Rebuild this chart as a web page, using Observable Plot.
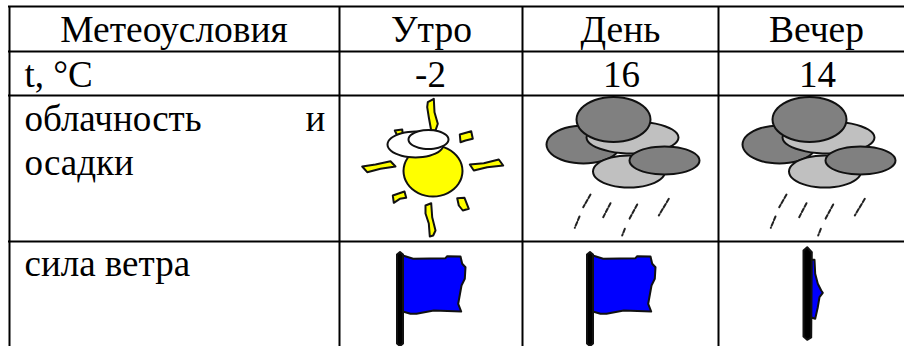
<!DOCTYPE html>
<html>
<head>
<meta charset="utf-8">
<script src="https://cdn.jsdelivr.net/npm/d3@7"></script>
<script src="https://cdn.jsdelivr.net/npm/@observablehq/plot@0.6"></script>
<style>html,body{margin:0;padding:0;background:#fff}svg{display:block}</style>
</head>
<body>
<div id="chart"></div>
<script>
// Table content
const headers = ["Метеоусловия", "Утро", "День", "Вечер"];
const temps = ["-2", "16", "14"];
const tempLabel = "t, °C";
const rowLabels = ["облачность", "и", "осадки", "сила ветра"];

// Table grid, in picture units
const gridX = [9, 339, 522, 718];
const gridY = [6, 51, 95, 241];
const headerX = [173.5, 431, 620, 816];
const tempX = [430, 621, 817];
const baselines = [41.5, 86, 130.5, 174, 275];

// Icon outlines, in picture units
const sunDisc = [432.5, 170.5, 29.5, 25.5];
const sunClouds = [[415, 144, 28, 13], [428, 139, 20, 9.5]];
const sunRays = [
  [[427.3,101.7],[433.3,98.3],[434,111.7],[437.3,123.3],[435,130],[430.7,130],[428.3,116.7],[426.7,106.7]],
  [[425,205],[430.7,202.7],[431.7,216.7],[435,230],[432.7,235],[429.3,236],[428.3,223],[425,213]],
  [[361.7,166],[375,164],[390,160.7],[395,166],[380,168.3],[366.7,171.7]],
  [[469.3,164],[483.3,162.7],[498.3,159],[502.7,165],[486.7,166.7],[473.3,170]],
  [[394.3,130],[401.7,129],[402.3,133.3],[396.7,135]],
  [[459.3,134],[470.7,130.7],[472.3,138.3],[465,140],[460,141.7]],
  [[392.3,195],[404,191],[405.7,197.3],[399.3,198.3],[393.3,202.3]],
  [[456.7,197.7],[464,197.3],[468.3,208.3],[462.3,210],[458.3,205]]
];
const cloudOffsets = [0, 196];
const cloudShapes = [
  [583, 144, 37, 19, "#808080"],
  [628.5, 171, 36, 16, "#c0c0c0"],
  [632, 137, 46, 16, "#c0c0c0"],
  [613, 119, 37, 22.5, "#808080"],
  [664, 160, 35, 14, "#808080"]
];
const rainStrokes = [
  [[590,194],[582.7,206.7]],
  [[610,202.7],[602.7,216.7]],
  [[636.7,204],[629,218.3]],
  [[668.3,198.3],[658.3,215]],
  [[579,216],[574.3,227.3]],
  [[624.3,228.3],[621.7,235]]
];
const flagOffsets = [0, 190];
const flagPole = [[399.5,251.5],[402.5,254],[402.5,343],[399.5,345.5],[396.5,343],[396.5,254]];
const flagCloth = [[402.3,255],[412.7,258.3],[445,257.7],[446.7,255.7],[460,256],[461.7,263.3],[465,266.7],[464.3,278.3],[461,285],[457.7,303.3],[460.7,311],[433.3,310],[416,313.3],[410,313.3],[402.3,311]];
const limpPole = [[806.7,246.7],[811.3,251.7],[810.7,337],[806.7,339.3],[803,336],[803,250]];
const limpCloth = [[810,259.3],[814,259.3],[814.7,273.3],[817.3,283.3],[820.7,290],[822.3,292.3],[819,296.7],[817.3,306.7],[814.7,318.3],[810,316.7]];

const font = {fontFamily: "Liberation Serif", fontSize: 37.5, fill: "#000", lineAnchor: "bottom"};
const labelFont = {...font, fontSize: 37};
const outline = "#111";
const outlineWidth = 2;

function poly(points, fill, dx = 0) {
  return Plot.line(points, {x: d => d[0] + dx, y: d => d[1], curve: "linear-closed", fill, stroke: outline, strokeWidth: outlineWidth, strokeLinejoin: "round"});
}
function ellipse([cx, cy, rx, ry], fill, dx = 0) {
  const pts = d3.range(24).map(i => {
    const a = i / 24 * 2 * Math.PI;
    return [cx + rx * Math.cos(a), cy + ry * Math.sin(a)];
  });
  return Plot.line(pts, {x: d => d[0] + dx, y: d => d[1], curve: "catmull-rom-closed", fill, stroke: outline, strokeWidth: outlineWidth});
}

const marks = [
  // Sun icon
  ...sunRays.map(r => poly(r, "#ffff00")),
  ellipse(sunDisc, "#ffff00"),
  ...sunClouds.map(c => ellipse(c, "#ffffff")),
  // Cloud icons
  ...cloudOffsets.flatMap(dx => [
    ...cloudShapes.map(c => ellipse(c, c[4], dx)),
    ...rainStrokes.map(s => Plot.line(s, {x: d => d[0] + dx, y: d => d[1], stroke: "#222", strokeWidth: 2, strokeDasharray: "4 2"}))
  ]),
  // Flags
  ...flagOffsets.flatMap(dx => [poly(flagCloth, "#0000ff", dx), poly(flagPole, "#000", dx)]),
  poly(limpCloth, "#0000ff"),
  poly(limpPole, "#000"),
  // Grid
  Plot.ruleY(gridY, {x1: gridX[0] - 1, x2: 904, stroke: "#000", strokeWidth: 2}),
  Plot.ruleX(gridX, {y1: gridY[0], y2: 346, stroke: "#000", strokeWidth: 2}),
  // Text
  Plot.text(headers, {x: (d, i) => headerX[i], y: () => baselines[0], text: d => d, textAnchor: "middle", ...font}),
  Plot.text(temps, {x: (d, i) => tempX[i], y: () => baselines[1], text: d => d, textAnchor: "middle", ...labelFont}),
  Plot.text([tempLabel], {x: () => 24, y: () => baselines[1], text: d => d, textAnchor: "start", ...labelFont}),
  Plot.text([rowLabels[0]], {x: () => 24, y: () => baselines[2], text: d => d, textAnchor: "start", ...labelFont}),
  Plot.text([rowLabels[1]], {x: () => 305, y: () => baselines[2], text: d => d, textAnchor: "start", ...labelFont}),
  Plot.text([rowLabels[2]], {x: () => 24, y: () => baselines[3], text: d => d, textAnchor: "start", ...labelFont}),
  Plot.text([rowLabels[3]], {x: () => 24, y: () => baselines[4], text: d => d, textAnchor: "start", ...labelFont})
];

document.getElementById("chart").append(Plot.plot({
  width: 904,
  height: 346,
  margin: 0,
  style: {background: "#fff"},
  x: {type: "linear", domain: [0, 904], range: [0, 904], axis: null},
  y: {type: "linear", domain: [0, 346], range: [0, 346], axis: null},
  marks
}));
</script>
</body>
</html>
